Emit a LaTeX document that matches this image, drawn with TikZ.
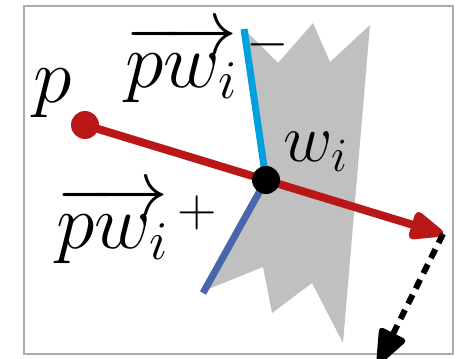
\RequirePackage{fix-cm}
\documentclass[tikz,border=0pt]{standalone}
\usepackage{amsmath}
\usepackage{tikz}
\usetikzlibrary{arrows.meta,backgrounds}
\definecolor{vecred}  {HTML}{BA1818}
\definecolor{negcyan} {HTML}{00A0DD}
\definecolor{posblue} {HTML}{4866AC}
\definecolor{wedge}   {HTML}{C0C0C0}
\definecolor{framegr} {HTML}{ABABAB}
\tikzset{
  pdot/.style    ={circle, fill=#1, inner sep=0pt, minimum size=14pt},
  biglbl/.style  ={inner sep=0pt, font=\fontsize{39}{45}\selectfont},
  smalllbl/.style={inner sep=0pt, font=\fontsize{34}{40}\selectfont},
  vecarr/.style  ={-{Triangle[length=20pt,width=15pt,round]}, line width=4pt,
                   color=vecred},
  dasharr/.style ={-{Triangle[length=20pt,width=15pt,round]}, line width=3pt,
                   dash pattern=on 5pt off 3.5pt},
  halfline/.style={line width=3.5pt},
}
\newcommand{\halfsign}[2]{\mkern2mu\raisebox{#1}{$\scriptstyle #2$}}

\begin{document}
\begin{tikzpicture}[x=0.5pt,y=-0.5pt]
  \useasboundingbox (0,0) rectangle (459,358);
  \draw[framegr, line width=1pt] (24,6) rectangle (453,354);

  % points of the sketch
  \node[pdot=vecred] (p) at (85,125) {};
  \node[pdot=black]  (w) at (266,180) {};
  \coordinate (wm) at (244,29);
  \coordinate (wp) at (203,293);
  \coordinate (q)  at (443,234);
  \coordinate (r)  at (378,364);

  \begin{scope}[on background layer]
    \fill[wedge] (wm) -- (278,63) -- (313,23) -- (330,62) -- (370,25)
      -- (343,343) -- (312,283) -- (272,313) -- (263,267) -- (206,290)
      -- (wp) -- (w.center) -- cycle;
    \draw[halfline, negcyan] (w.center) -- (wm);
    \draw[halfline, posblue] (w.center) -- (wp);
    \draw[vecarr] (p.center) -- (q);
  \end{scope}
  \draw[dasharr] (q) -- (r);

  % labels
  \node[biglbl, anchor=base] (plbl) at (53,102) {$p$};
  \node[biglbl, anchor=base west] (neglbl) at (125,87)
    {$\overrightarrow{pw_i}\halfsign{0.36em}{-}$};
  \node[biglbl, anchor=base west] (poslbl) at (56,248)
    {$\overrightarrow{pw_i}\halfsign{0.28em}{+}$};
  \node[smalllbl, anchor=base west] (wlbl) at (283,161) {$w_i$};
\end{tikzpicture}
\end{document}
